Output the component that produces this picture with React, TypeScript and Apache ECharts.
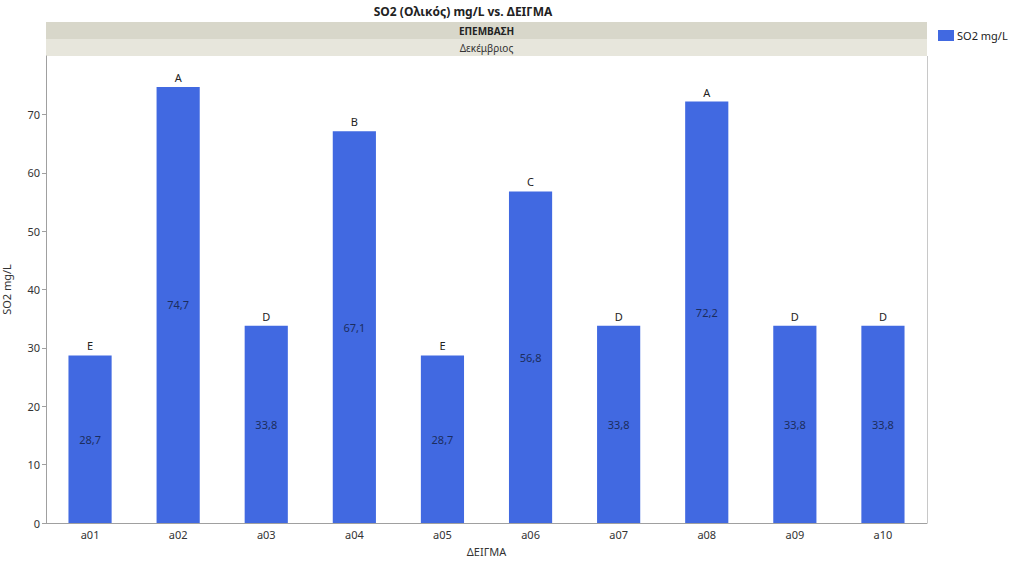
import React, { useEffect, useRef } from "react";
import * as echarts from "echarts";

const categories = ["a01", "a02", "a03", "a04", "a05", "a06", "a07", "a08", "a09", "a10"];
const values = [28.7, 74.7, 33.8, 67.1, 28.7, 56.8, 33.8, 72.2, 33.8, 33.8];
const letters = ["E", "A", "D", "B", "E", "C", "D", "A", "D", "D"];
const seriesName = "SO2 mg/L";
const titleText = "SO2 (Ολικός) mg/L vs. ΔΕΙΓΜΑ";
const band1Text = "ΕΠΕΜΒΑΣΗ";
const band2Text = "Δεκέμβριος";
const xTitle = "ΔΕΙΓΜΑ";

const FONT = "'Noto Sans', 'Open Sans', sans-serif";

export default function App() {
  const ref = useRef<HTMLDivElement>(null);
  useEffect(() => {
    if (!ref.current) return;
    const chart = echarts.init(ref.current, null, { renderer: "svg" });
    const L = 46, R = 927, T = 56, B = 523;
    chart.setOption({
      animation: false,
      backgroundColor: "#ffffff",
      textStyle: { fontFamily: FONT },
      grid: {
        left: L,
        right: 1024 - R,
        top: T,
        bottom: 562 - B,
        containLabel: false,
        outerBoundsMode: "none",
      },
      legend: {
        data: [seriesName],
        left: 933,
        top: 25,
        itemWidth: 16,
        itemHeight: 11,
        itemGap: 4,
        icon: "rect",
        textStyle: { fontFamily: FONT, fontSize: 11, color: "#222", padding: [0, 0, 0, -2] },
      },
      xAxis: {
        type: "category",
        data: categories,
        name: xTitle,
        nameLocation: "middle",
        nameGap: 23,
        nameTextStyle: { fontFamily: FONT, fontSize: 11, color: "#333" },
        axisLine: { lineStyle: { color: "#a0a0a0" } },
        axisTick: { show: false },
        axisLabel: { fontFamily: FONT, fontSize: 11, color: "#333", margin: 6 },
      },
      yAxis: {
        type: "value",
        min: 0,
        max: 80,
        interval: 10,
        name: seriesName,
        nameLocation: "middle",
        nameGap: 34,
        nameTextStyle: { fontFamily: FONT, fontSize: 11, color: "#333" },
        axisLine: { show: true, lineStyle: { color: "#a0a0a0" } },
        axisTick: { show: true, length: 4, lineStyle: { color: "#a0a0a0" } },
        axisLabel: { fontFamily: FONT, fontSize: 11, color: "#333", margin: 6, showMaxLabel: false },
        splitLine: { show: false },
      },
      series: [
        {
          name: seriesName,
          type: "bar",
          data: values,
          barWidth: "49%",
          itemStyle: { color: "#4169e1" },
          label: {
            show: true,
            position: "inside",
            fontFamily: FONT,
            fontSize: 11,
            color: "#1c2d5e",
            formatter: (p: any) => String(p.value).replace(".", ","),
          },
        },
        {
          name: "letters",
          type: "bar",
          data: values,
          barWidth: "49%",
          barGap: "-100%",
          silent: true,
          itemStyle: { color: "rgba(0,0,0,0)" },
          label: {
            show: true,
            position: "top",
            distance: 4,
            fontFamily: FONT,
            fontSize: 11,
            color: "#222",
            formatter: (p: any) => letters[p.dataIndex],
          },
        },
      ],
      graphic: [
        {
          type: "text",
          x: 463,
          y: 11,
          style: {
            text: titleText,
            textAlign: "center",
            textVerticalAlign: "middle",
            font: `bold 12px ${FONT}`,
            fill: "#222",
          },
        },
        {
          type: "rect",
          shape: { x: L, y: 22, width: R - L, height: 17 },
          style: { fill: "#d8d7ca" },
        },
        {
          type: "rect",
          shape: { x: L, y: 39, width: R - L, height: 17 },
          style: { fill: "#e7e6dc" },
        },
        {
          type: "text",
          x: (L + R) / 2,
          y: 30.5,
          style: {
            text: band1Text,
            textAlign: "center",
            textVerticalAlign: "middle",
            font: `bold 10px ${FONT}`,
            fill: "#222",
          },
        },
        {
          type: "text",
          x: (L + R) / 2,
          y: 47.5,
          style: {
            text: band2Text,
            textAlign: "center",
            textVerticalAlign: "middle",
            font: `10px ${FONT}`,
            fill: "#333",
          },
        },
        {
          type: "line",
          shape: { x1: R + 0.5, y1: T, x2: R + 0.5, y2: B },
          style: { stroke: "#c8c8c8", lineWidth: 1 },
        },
      ],
    });
    return () => chart.dispose();
  }, []);
  return <div ref={ref} style={{ width: 1024, height: 562, position: "absolute", left: 0, top: 0 }} />;
}
